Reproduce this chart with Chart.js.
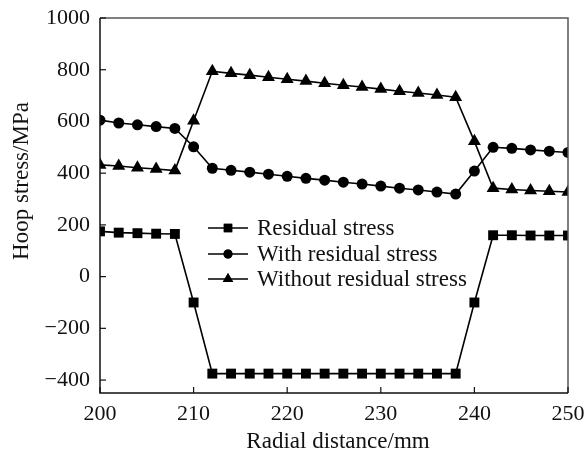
<!DOCTYPE html>
<html>
<head>
<meta charset="utf-8">
<script src="https://cdn.jsdelivr.net/npm/chart.js@4/dist/chart.umd.min.js"></script>
<style>
  html, body { margin: 0; padding: 0; background: #fff; }
  #wrap { width: 586px; height: 459px; }
</style>
</head>
<body>
<div id="wrap"><canvas id="hoopChart"></canvas></div>
<script>
// radial positions (mm)
const radialDistance = [200, 202, 204, 206, 208, 210, 212, 214, 216, 218, 220, 222, 224,
  226, 228, 230, 232, 234, 236, 238, 240, 242, 244, 246, 248, 250];

// hoop stress (MPa)
const residualStress = [175, 170, 168, 166, 165, -100, -375, -375, -375, -375, -375, -375, -375,
  -375, -375, -375, -375, -375, -375, -375, -100, 160, 160, 159, 159, 159];
const withResidual = [605, 594, 587, 580, 573, 502, 419, 411, 404, 396, 388, 380, 373,
  365, 358, 350, 342, 335, 327, 319, 408, 500, 496, 490, 485, 480];
const withoutResidual = [432, 428, 421, 416, 410, 603, 794, 786, 779, 771, 763, 756, 748,
  740, 733, 725, 717, 710, 702, 694, 523, 342, 337, 333, 330, 327];

const xTicks = [200, 210, 220, 230, 240, 250];
const yTicks = [-400, -200, 0, 200, 400, 600, 800, 1000];

const seriesNames = ['Residual stress', 'With residual stress', 'Without residual stress'];
const seriesMarkers = ['rect', 'circle', 'triangle'];

const serif = "'Liberation Serif', 'Times New Roman', serif";

function toPoints(ys) {
  return radialDistance.map((x, i) => ({ x: x, y: ys[i] }));
}

function makeSet(label, ys, marker, radius) {
  return {
    label: label,
    data: toPoints(ys),
    borderColor: '#000',
    backgroundColor: '#000',
    borderWidth: 1.6,
    pointStyle: marker,
    pointRadius: radius,
    pointBorderWidth: 0,
    pointBackgroundColor: '#000',
    tension: 0
  };
}

// inward ticks, frame, axis titles and the in-plot legend
const decorations = {
  id: 'decorations',
  afterDraw(chart) {
    const ctx = chart.ctx;
    const a = chart.chartArea;
    const xs = chart.scales.x, ys = chart.scales.y;
    ctx.save();

    // frame
    ctx.lineWidth = 1.5;
    ctx.strokeStyle = '#555';
    ctx.beginPath();
    ctx.moveTo(a.left, a.top);
    ctx.lineTo(a.right, a.top);
    ctx.lineTo(a.right, a.bottom);
    ctx.stroke();
    ctx.strokeStyle = '#111';
    ctx.beginPath();
    ctx.moveTo(a.left, a.top);
    ctx.lineTo(a.left, a.bottom);
    ctx.lineTo(a.right, a.bottom);
    ctx.stroke();

    // ticks pointing inside
    ctx.lineWidth = 1.2;
    xTicks.forEach(v => {
      const px = xs.getPixelForValue(v);
      ctx.beginPath();
      ctx.moveTo(px, a.bottom);
      ctx.lineTo(px, a.bottom - 6);
      ctx.stroke();
    });
    yTicks.forEach(v => {
      const py = ys.getPixelForValue(v);
      ctx.beginPath();
      ctx.moveTo(a.left, py);
      ctx.lineTo(a.left + 6, py);
      ctx.stroke();
    });

    // axis titles
    ctx.fillStyle = '#111';
    ctx.font = '23px ' + serif;
    ctx.textAlign = 'center';
    ctx.textBaseline = 'middle';
    ctx.fillText('Radial distance/mm', (a.left + a.right) / 2 + 4, 442);
    ctx.save();
    ctx.translate(22, 181);
    ctx.rotate(-Math.PI / 2);
    ctx.fillText('Hoop stress/MPa', 0, 0);
    ctx.restore();

    // legend
    const lx = a.left + 108;
    const rows = [228, 254, 279];
    ctx.textAlign = 'left';
    seriesNames.forEach((name, i) => {
      const y = rows[i];
      ctx.strokeStyle = '#000';
      ctx.lineWidth = 1.5;
      ctx.beginPath();
      ctx.moveTo(lx, y);
      ctx.lineTo(lx + 40, y);
      ctx.stroke();
      Chart.helpers.drawPoint(ctx, {
        pointStyle: seriesMarkers[i],
        radius: seriesMarkers[i] === 'circle' ? 4.5 : 6,
        rotation: 0,
        borderWidth: 0
      }, lx + 20, y);
      ctx.fillStyle = '#000';
      ctx.fill();
      ctx.fillStyle = '#111';
      ctx.fillText(name, lx + 49, y + 1);
    });
    ctx.restore();
  }
};

new Chart(document.getElementById('hoopChart'), {
  type: 'line',
  data: {
    datasets: [
      makeSet(seriesNames[0], residualStress, seriesMarkers[0], 7),
      makeSet(seriesNames[1], withResidual, seriesMarkers[1], 5.5),
      makeSet(seriesNames[2], withoutResidual, seriesMarkers[2], 7.5)
    ]
  },
  options: {
    responsive: true,
    maintainAspectRatio: false,
    animation: false,
    layout: { padding: { top: 18, right: 18, left: 0, bottom: 0 } },
    plugins: {
      legend: { display: false },
      tooltip: { enabled: false }
    },
    scales: {
      x: {
        type: 'linear',
        min: 200,
        max: 250,
        afterBuildTicks: s => { s.ticks = xTicks.map(v => ({ value: v })); },
        afterFit: s => { s.height = 66; s.paddingLeft = 0; s.paddingRight = 0; },
        grid: { display: false, drawTicks: false },
        border: { display: false },
        ticks: {
          color: '#111',
          padding: 8,
          maxRotation: 0,
          font: { family: serif, size: 22 }
        }
      },
      y: {
        type: 'linear',
        min: -450,
        max: 1000,
        afterBuildTicks: s => { s.ticks = yTicks.map(v => ({ value: v })); },
        afterFit: s => { s.width = 100; s.paddingTop = 0; s.paddingBottom = 0; },
        grid: { display: false, drawTicks: false },
        border: { display: false },
        ticks: {
          color: '#111',
          padding: 10,
          font: { family: serif, size: 22 },
          callback: v => String(v).replace('-', '\u2212')
        }
      }
    }
  },
  plugins: [decorations]
});
</script>
</body>
</html>
